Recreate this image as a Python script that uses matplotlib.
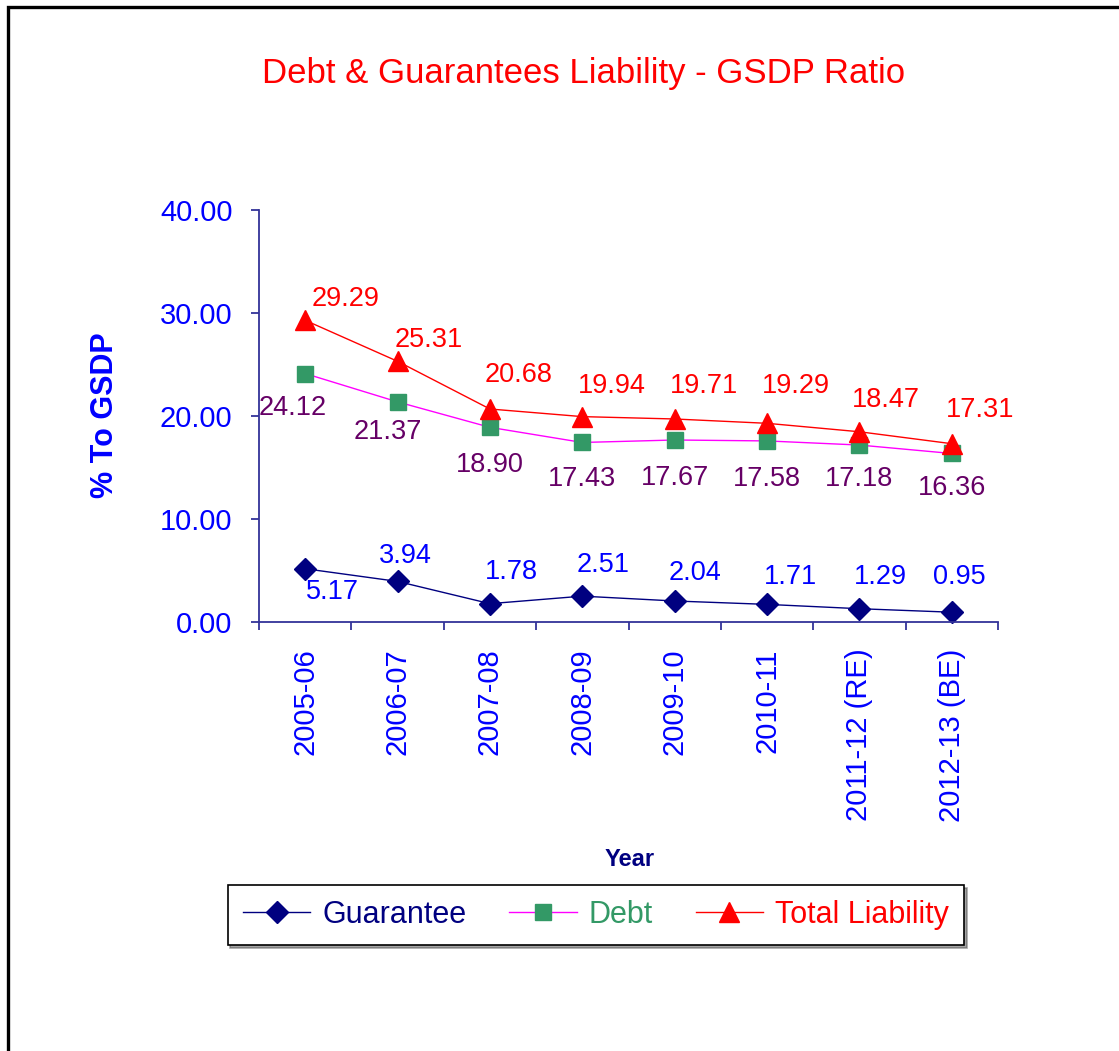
import matplotlib
matplotlib.use('Agg')
import matplotlib.pyplot as plt
from matplotlib.lines import Line2D

plt.rcParams['font.family'] = ['Liberation Sans', 'DejaVu Sans']

# chart data
years = ['2005-06', '2006-07', '2007-08', '2008-09', '2009-10',
         '2010-11', '2011-12 (RE)', '2012-13 (BE)']
guarantee = [5.17, 3.94, 1.78, 2.51, 2.04, 1.71, 1.29, 0.95]
debt = [24.12, 21.37, 18.90, 17.43, 17.67, 17.58, 17.18, 16.36]
total = [29.29, 25.31, 20.68, 19.94, 19.71, 19.29, 18.47, 17.31]
y_ticks = [0, 10, 20, 30, 40]

# where each value label sits, relative to its point (pixels)
guar_off = [(27, -23), (8, 25), (21, 32), (21, 31), (20, 28), (23, 27), (21, 32), (7, 35)]
debt_off = [(-13, -34), (-10, -30), (0, -38), (0, -37), (0, -38), (0, -38), (0, -34), (0, -35)]
total_off = [(40, 21), (31, 21), (29, 34), (30, 31), (29, 33), (29, 37), (26, 32), (28, 34)]

W, H = 1119, 1051
fig = plt.figure(figsize=(W / 100, H / 100), dpi=100)

# outer frame (only left and top edges are visible)
fig.add_artist(Line2D([8 / W, 8 / W, 1.0], [0.0, 1 - 7 / H, 1 - 7 / H],
                      transform=fig.transFigure, color='black', lw=2.4,
                      solid_joinstyle='miter'))

ax = fig.add_axes([259 / W, 1 - 622 / H, (998 - 259) / W, (622 - 210) / H])
x = list(range(len(years)))

navy = '#000080'
ax.plot(x, guarantee, color=navy, lw=1, marker='D', ms=11,
        mfc=navy, mec=navy, label='Guarantee', clip_on=False)
ax.plot(x, debt, color='#FF00FF', lw=1, marker='s', ms=12,
        mfc='#339966', mec='#339966', label='Debt', clip_on=False)
ax.plot(x, total, color='#FF0000', lw=1, marker='^', ms=15,
        mfc='#FF0000', mec='#FF0000', label='Total Liability', clip_on=False)

# value labels
for vals, offs, col in [(guarantee, guar_off, '#0000FF'),
                        (debt, debt_off, '#660066'),
                        (total, total_off, '#FF0000')]:
    for i, v in enumerate(vals):
        ax.annotate(f'{v:.2f}', (i, v), xytext=offs[i], textcoords='offset pixels',
                    ha='center', va='center', fontsize=19.5, color=col)

ax.set_xlim(-0.5, len(years) - 0.5)
ax.set_ylim(0, 40)
ax.set_yticks(y_ticks)
ax.set_yticklabels([f'{t:.2f}' for t in y_ticks])
ax.set_xticks(x)
ax.set_xticklabels(years, rotation=90)
ax.set_xticks([i - 0.5 for i in range(len(years) + 1)], minor=True)

for side in ['top', 'right']:
    ax.spines[side].set_visible(False)
for side in ['left', 'bottom']:
    ax.spines[side].set_color('#333399')
    ax.spines[side].set_linewidth(1.3)

ax.tick_params(axis='y', direction='out', length=6, width=1.3, color='#333399',
               labelsize=21, labelcolor='#0000FF', pad=13)
ax.tick_params(axis='x', which='major', length=0, labelsize=21,
               labelcolor='#0000FF', pad=19)
ax.tick_params(axis='x', which='minor', direction='out', length=6, width=1.3,
               color='#333399')

fig.text(584 / W, 1 - 73 / H, 'Debt & Guarantees Liability - GSDP Ratio',
         ha='center', va='center', fontsize=25, color='#FF0000')
fig.text(105 / W, 1 - 415 / H, '% To GSDP', rotation=90, ha='center', va='center',
         fontsize=22, fontweight='bold', color='#0000FF')
fig.text(630 / W, 1 - 859 / H, 'Year', ha='center', va='center',
         fontsize=17, fontweight='bold', color=navy)

leg = fig.legend(loc='center', bbox_to_anchor=(596 / W, 1 - 915 / H), ncol=3,
                 frameon=True, fancybox=False, shadow=True, fontsize=22,
                 handlelength=2.2, handletextpad=0.4, columnspacing=1.4,
                 borderpad=0.5)
leg.get_frame().set_edgecolor('black')
leg.get_frame().set_linewidth(1.2)
for txt, col in zip(leg.get_texts(), [navy, '#339966', '#FF0000']):
    txt.set_color(col)

fig.savefig('out.png', dpi=100)
